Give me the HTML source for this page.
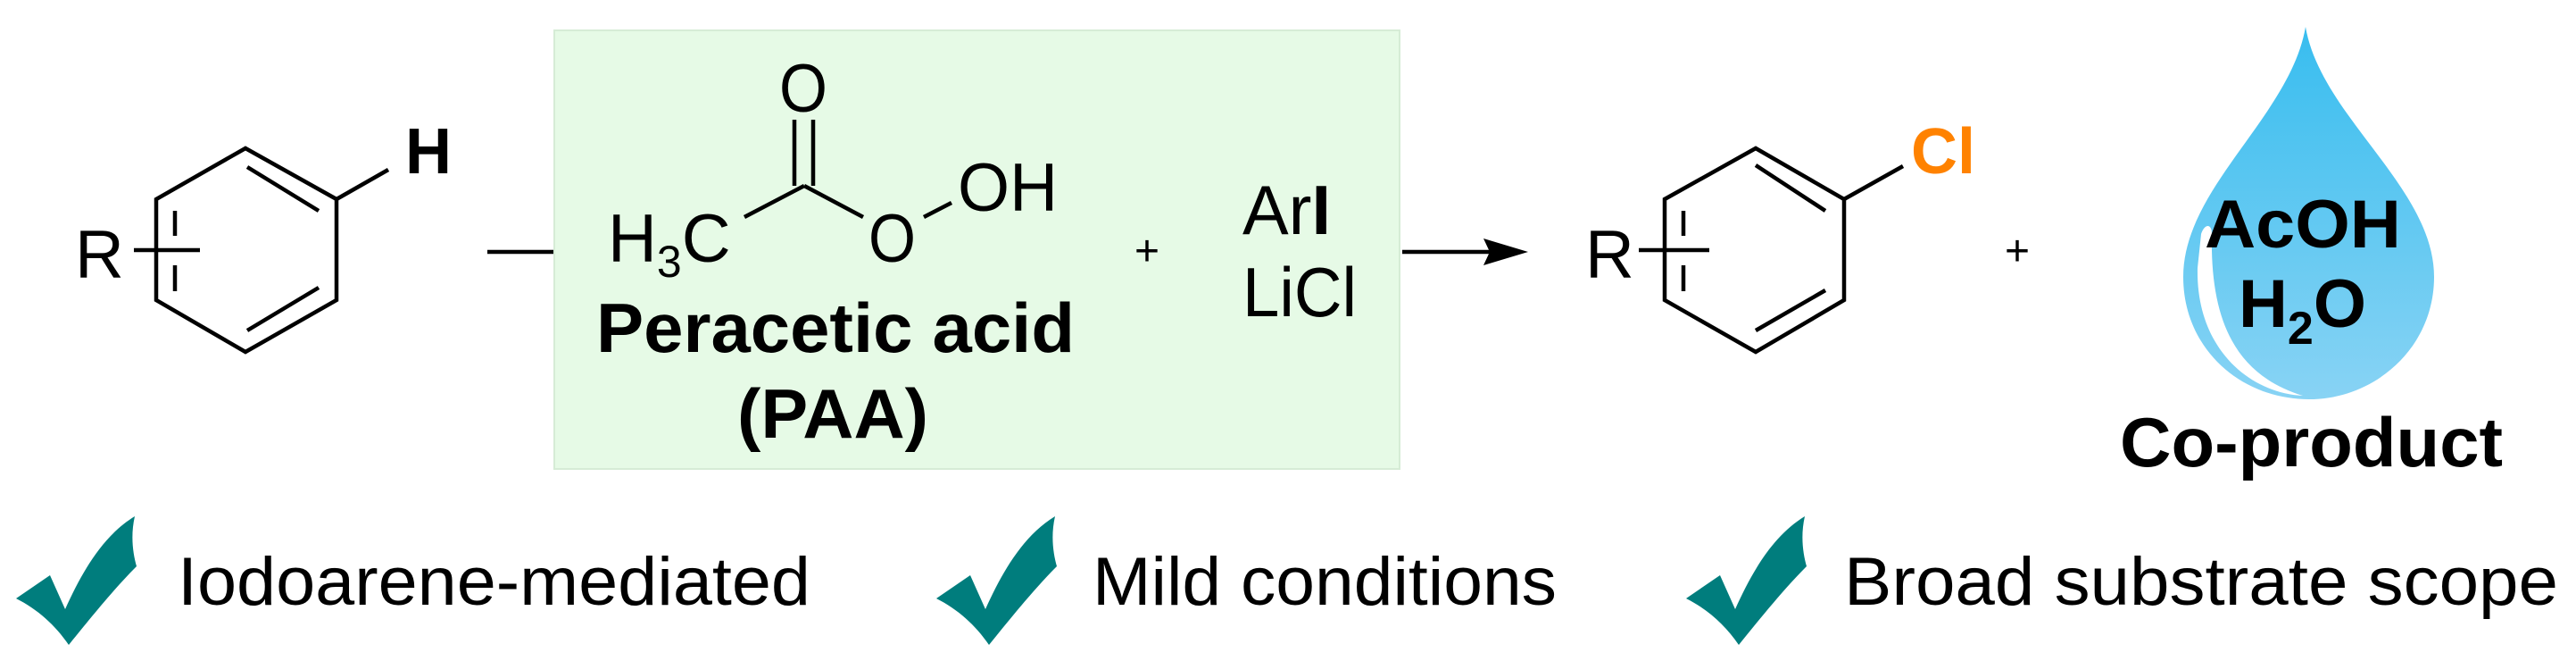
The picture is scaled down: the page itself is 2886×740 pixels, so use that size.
<!DOCTYPE html>
<html><head><meta charset="utf-8"><style>
html,body{margin:0;padding:0;background:#fff;}
svg{display:block;}
text{font-family:"Liberation Sans",Arial,sans-serif;}
</style></head><body>
<svg width="2886" height="740" viewBox="0 0 2886 740" xmlns="http://www.w3.org/2000/svg">
<defs>
<linearGradient id="dg" x1="0" y1="0" x2="0" y2="1">
<stop offset="0" stop-color="#38BDEF"/><stop offset="1" stop-color="#88D3F4"/>
</linearGradient>
<path id="chk" d="M151,578 C146,600 149,620 153,634 C125,662 95,700 77,722 C62,700 42,682 18,670 L56,644 L73,682 C92,640 115,600 151,578 Z"/>
</defs>
<rect x="621" y="34" width="947" height="491" fill="#E6FAE6" stroke="#d6ecd6" stroke-width="2"/>
<g stroke="#000" stroke-width="4.5" fill="none" stroke-linecap="butt">
<polygon points="275,166 377,223 377,336 275,394 175,336 175,223"/>
<line x1="377" y1="223" x2="435" y2="190"/>
<line x1="150" y1="280" x2="224" y2="280"/>
<line x1="196" y1="236" x2="196" y2="264"/>
<line x1="196" y1="297" x2="196" y2="326"/>
<line x1="277" y1="187" x2="357" y2="236"/>
<line x1="277" y1="370" x2="357" y2="322"/>
<line x1="546" y1="282" x2="620" y2="282"/>
<line x1="890" y1="134" x2="890" y2="208"/>
<line x1="911" y1="134" x2="911" y2="208"/>
<line x1="901" y1="208" x2="834" y2="243"/>
<line x1="901" y1="208" x2="967" y2="243"/>
<line x1="1035" y1="243" x2="1066" y2="227"/>
<line x1="1571" y1="282" x2="1680" y2="282"/>
<polygon points="1967,166 2066,223 2066,336 1967,394 1865,336 1865,223"/>
<line x1="2066" y1="223" x2="2132" y2="186"/>
<line x1="1836" y1="280" x2="1915" y2="280"/>
<line x1="1886" y1="236" x2="1886" y2="264"/>
<line x1="1886" y1="297" x2="1886" y2="326"/>
<line x1="1967" y1="185" x2="2045" y2="236"/>
<line x1="1967" y1="370" x2="2045" y2="325"/>
</g>
<polygon points="1712,282 1662,267 1669,282 1662,297" fill="#000"/>
<text x="454" y="194" font-size="72" font-weight="bold">H</text>
<text x="84" y="311" font-size="76">R</text>
<text x="873" y="125" font-size="76" textLength="54" lengthAdjust="spacingAndGlyphs">O</text>
<text x="681" y="293" font-size="76">H<tspan font-size="50" dy="17">3</tspan><tspan dy="-17">C</tspan></text>
<text x="973" y="293" font-size="76" textLength="53" lengthAdjust="spacingAndGlyphs">O</text>
<text x="1073" y="236" font-size="76" textLength="112" lengthAdjust="spacingAndGlyphs">OH</text>
<text x="668" y="394" font-size="78" font-weight="bold" textLength="536" lengthAdjust="spacingAndGlyphs">Peracetic acid</text>
<text x="826" y="490" font-size="78" font-weight="bold" textLength="214" lengthAdjust="spacingAndGlyphs">(PAA)</text>
<text x="1285" y="297" font-size="48" text-anchor="middle">+</text>
<text x="1392" y="262" font-size="78" textLength="99" lengthAdjust="spacingAndGlyphs">Ar<tspan font-weight="bold">I</tspan></text>
<text x="1392" y="354" font-size="78" textLength="128" lengthAdjust="spacingAndGlyphs">LiCl</text>
<text x="1776" y="311" font-size="76">R</text>
<text x="2141" y="194" font-size="72" font-weight="bold" fill="#FF8200">Cl</text>
<text x="2260" y="297" font-size="48" text-anchor="middle">+</text>
<path d="M2583,30 C2600,130 2727,210 2727,310 C2727,390 2660,447 2587,447 C2510,447 2446,390 2446,310 C2446,210 2566,130 2583,30 Z" fill="url(#dg)"/>
<path d="M2466,262 C2470,250 2478,250 2478,262 C2476,360 2505,420 2580,443 C2520,440 2460,390 2462,300 Z" fill="#fff"/>
<text x="2470" y="277" font-size="76" font-weight="bold" textLength="220" lengthAdjust="spacingAndGlyphs">AcOH</text>
<text x="2508" y="366" font-size="76" font-weight="bold">H<tspan font-size="52" dy="19">2</tspan><tspan dy="-19">O</tspan></text>
<text x="2375" y="522" font-size="78" font-weight="bold" textLength="429" lengthAdjust="spacingAndGlyphs">Co-product</text>
<g fill="#007D7D">
<use href="#chk"/>
<use href="#chk" transform="translate(1031,0)"/>
<use href="#chk" transform="translate(1871,0)"/>
</g>
<text x="199" y="677" font-size="76" textLength="709" lengthAdjust="spacingAndGlyphs">Iodoarene-mediated</text>
<text x="1224" y="677" font-size="76" textLength="520" lengthAdjust="spacingAndGlyphs">Mild conditions</text>
<text x="2066" y="677" font-size="76" textLength="800" lengthAdjust="spacingAndGlyphs">Broad substrate scope</text>
</svg>
</body></html>
